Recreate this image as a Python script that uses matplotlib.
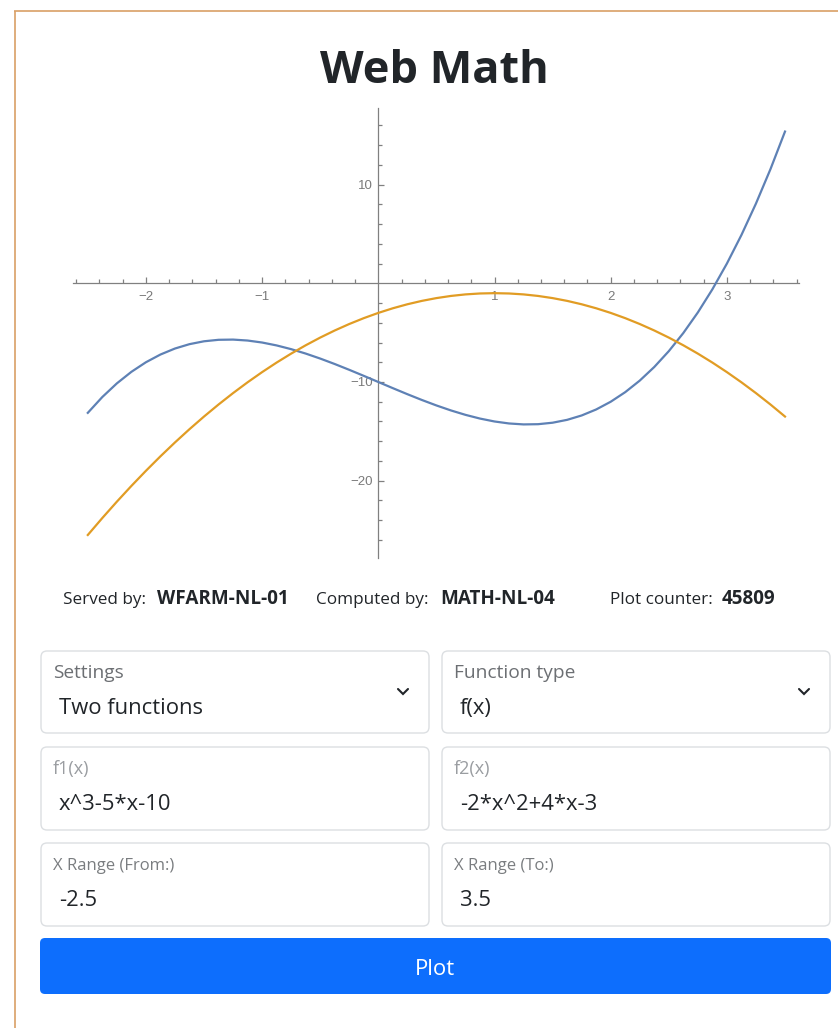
import matplotlib
matplotlib.use("Agg")
import matplotlib.pyplot as plt
from matplotlib.patches import FancyBboxPatch
from matplotlib.ticker import FixedLocator

# Data: sample points of the two plotted functions (step 0.125 over the x range)
X_VALUES = [-2.5, -2.375, -2.25, -2.125, -2.0, -1.875, -1.75, -1.625, -1.5, -1.375,
            -1.25, -1.125, -1.0, -0.875, -0.75, -0.625, -0.5, -0.375, -0.25, -0.125,
            0.0, 0.125, 0.25, 0.375, 0.5, 0.625, 0.75, 0.875, 1.0, 1.125, 1.25, 1.375,
            1.5, 1.625, 1.75, 1.875, 2.0, 2.125, 2.25, 2.375, 2.5, 2.625, 2.75, 2.875,
            3.0, 3.125, 3.25, 3.375, 3.5]
F1_VALUES = [-13.125, -11.521, -10.141, -8.971, -8.0, -7.217, -6.609, -6.166, -5.875, -5.725,
             -5.703, -5.799, -6.0, -6.295, -6.672, -7.119, -7.625, -8.178, -8.766, -9.377,
             -10.0, -10.623, -11.234, -11.822, -12.375, -12.881, -13.328, -13.705, -14.0,
             -14.201, -14.297, -14.275, -14.125, -13.834, -13.391, -12.783, -12.0, -11.029,
             -9.859, -8.479, -6.875, -5.037, -2.953, -0.611, 2.0, 4.893, 8.078, 11.568, 15.375]
F2_VALUES = [-25.5, -23.781, -22.125, -20.531, -19.0, -17.531, -16.125, -14.781, -13.5, -12.281,
             -11.125, -10.031, -9.0, -8.031, -7.125, -6.281, -5.5, -4.781, -4.125, -3.531,
             -3.0, -2.531, -2.125, -1.781, -1.5, -1.281, -1.125, -1.031, -1.0, -1.031,
             -1.125, -1.281, -1.5, -1.781, -2.125, -2.531, -3.0, -3.531, -4.125, -4.781,
             -5.5, -6.281, -7.125, -8.031, -9.0, -10.031, -11.125, -12.281, -13.5]

X_MAJOR = [-2, -1, 1, 2, 3]
X_MINOR = [-2.6, -2.4, -2.2, -1.8, -1.6, -1.4, -1.2, -0.8, -0.6, -0.4, -0.2,
           0.2, 0.4, 0.6, 0.8, 1.2, 1.4, 1.6, 1.8, 2.2, 2.4, 2.6, 2.8, 3.2, 3.4, 3.6]
Y_MAJOR = [-20, -10, 10]
Y_MINOR = [-26, -24, -22, -18, -16, -14, -12, -8, -6, -4, -2, 2, 4, 6, 8, 12, 14, 16]

TITLE = "Web Math"
STATUS = [("Served by:", False), ("WFARM-NL-01", True), ("Computed by:", False),
          ("MATH-NL-04", True), ("Plot counter:", False), ("45809", True)]
FIELDS = [("Settings", "Two functions"), ("Function type", "f(x)"),
          ("f1(x)", "x^3-5*x-10"), ("f2(x)", "-2*x^2+4*x-3"),
          ("X Range (From:)", "-2.5"), ("X Range (To:)", "3.5")]
BUTTON_TEXT = "Plot"

W, H = 838, 1028
BLUE = "#5E81B5"
ORANGE = "#E19C24"
AXIS_GRAY = "#808080"
TEXT = "#212529"
UI_FONT = "Open Sans"

fig = plt.figure(figsize=(W / 100, H / 100), dpi=100)


def px_rect(x0, y0, x1, y1):
    # pixel box (top-left origin) -> figure fraction rect
    return [x0 / W, 1 - y1 / H, (x1 - x0) / W, (y1 - y0) / H]


# UI layer in pixel coordinates
ui = fig.add_axes([0, 0, 1, 1])
ui.set_xlim(0, W)
ui.set_ylim(H, 0)
ui.axis("off")

# page border
ui.plot([14, W], [11, 11], color="#D9A066", lw=1.2, solid_capstyle="butt")
ui.plot([15, 15], [11, H], color="#D9A066", lw=1.2, solid_capstyle="butt")

ui.text(434, 83, TITLE, ha="center", va="baseline", fontsize=32.5,
        fontweight="bold", color=TEXT, family=UI_FONT)

status_x = [63, 157, 316, 440, 610, 722]
for (txt, bold), sx in zip(STATUS, status_x):
    ui.text(sx, 604, txt, ha="left", va="baseline",
            fontsize=13.6 if bold else 12.3,
            fontweight="bold" if bold else "normal", color=TEXT, family=UI_FONT)

# form fields
col_x = [(41, 429), (442, 830)]
row_y = [(651, 733), (747, 830), (843, 926)]
label_colors = ["#6c6f73", "#6c6f73", "#9a9da1", "#9a9da1", "#7a7d80", "#7a7d80"]
label_sizes = [13.8, 13.8, 13.0, 13.0, 12.0, 12.0]
for i, (label, value) in enumerate(FIELDS):
    x0, x1 = col_x[i % 2]
    y0, y1 = row_y[i // 2]
    ui.add_patch(FancyBboxPatch((x0, y0), x1 - x0, y1 - y0,
                                boxstyle="round,pad=0,rounding_size=6",
                                fc="white", ec="#dcdfe2", lw=1.0))
    ui.text(x0 + 12, y0 + 27, label, ha="left", va="baseline",
            fontsize=label_sizes[i], color=label_colors[i], family=UI_FONT)
    ui.text(x0 + 18, y0 + 63, value, ha="left", va="baseline",
            fontsize=15.8, color=TEXT, family=UI_FONT)
    if i < 2:
        cx = x1 - 26
        ui.plot([cx - 5, cx, cx + 5], [y0 + 38, y0 + 43, y0 + 38],
                color=TEXT, lw=1.5, solid_capstyle="round", solid_joinstyle="miter")

ui.add_patch(FancyBboxPatch((40, 938), 791, 56, boxstyle="round,pad=0,rounding_size=5",
                            fc="#0d6efd", ec="none"))
ui.text(435, 975, BUTTON_TEXT, ha="center", va="baseline", fontsize=16,
        color="white", family=UI_FONT)

# Mathematica-style plot, axes through origin
ax = fig.add_axes(px_rect(60, 100, 810, 565))
ax.patch.set_alpha(0)
ax.set_xlim((60 - 378.3) / 116.2, (810 - 378.3) / 116.2)
ax.set_ylim((283.3 - 565) / 9.87, (283.3 - 100) / 9.87)

ax.plot(X_VALUES, F1_VALUES, color=BLUE, lw=1.6)
ax.plot(X_VALUES, F2_VALUES, color=ORANGE, lw=1.6)

for side in ["top", "right"]:
    ax.spines[side].set_visible(False)
ax.spines["bottom"].set_position(("data", 0))
ax.spines["left"].set_position(("data", 0))
ax.spines["bottom"].set_bounds(-2.63, 3.62)
ax.spines["left"].set_bounds(-27.8, 17.8)
for side in ["bottom", "left"]:
    ax.spines[side].set_color(AXIS_GRAY)
    ax.spines[side].set_linewidth(0.9)
    ax.spines[side].set_zorder(1)

ax.xaxis.set_major_locator(FixedLocator(X_MAJOR))
ax.xaxis.set_minor_locator(FixedLocator(X_MINOR))
ax.yaxis.set_major_locator(FixedLocator(Y_MAJOR))
ax.yaxis.set_minor_locator(FixedLocator(Y_MINOR))
ax.tick_params(which="both", direction="in", color=AXIS_GRAY, width=0.9,
               labelcolor="#7a7a7a", labelsize=9.5, labelfontfamily="Liberation Sans")
ax.tick_params(which="major", length=4.3)
ax.tick_params(which="minor", length=2.8)
ax.tick_params(axis="x", which="major", pad=5.5)
ax.tick_params(axis="y", which="major", pad=4)

fig.savefig("out.png", dpi=100)
